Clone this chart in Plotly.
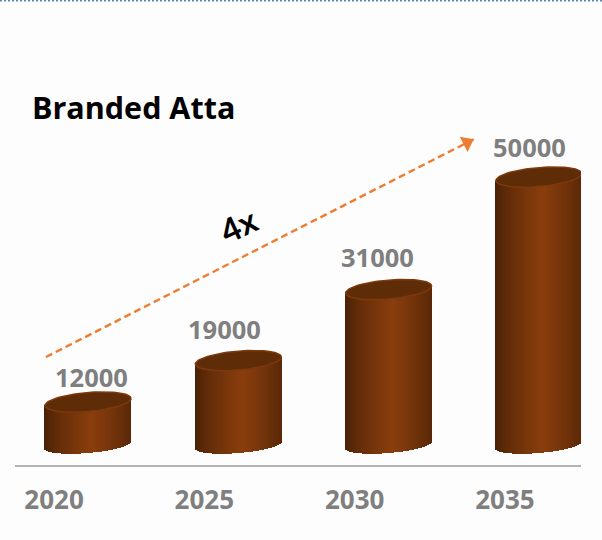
import numpy as np
import plotly.graph_objects as go

YEARS = [2020, 2025, 2030, 2035]
VALUES = [12000, 19000, 31000, 50000]
BASE_VALUE = 4737
LABEL_SHIFT_X = [3, -14, -11, -9]
LABEL_SHIFT_Y = [25, 32, 33, 30]
ARROW_X = [2018.6, 2032.84]
ARROW_Y = [19600, 56400]

W, H = 602, 540
ML, MR, MT, MB = 15, 21, 40, 75
XR = [2017.57, 2036.4]
YR = [1360, 73150]
px_x = (XR[1] - XR[0]) / (W - ML - MR)
px_y = (YR[1] - YR[0]) / (H - MT - MB)

HALF_W = 43
SEMI_B = 9.5
SEMI_LOW = 8
TILT = 3.5
EDGE = np.array([70, 32, 6])
MID = np.array([138, 62, 13])
N = 86


def strip_color(t):
    k = 1 - abs(t - 0.1) / 1.1
    k = k ** 0.7
    c = EDGE + (MID - EDGE) * k
    return f"rgb({int(c[0])},{int(c[1])},{int(c[2])})"


fig = go.Figure()
for yr, val in zip(YEARS, VALUES):
    off = (np.arange(N) + 0.5) / N * 2 - 1
    xs = yr + off * HALF_W * px_x
    low = BASE_VALUE + (-np.sqrt(1 - off ** 2) * SEMI_LOW + off * TILT) * px_y
    top = val + (off * TILT) * px_y
    fig.add_trace(go.Bar(
        x=xs, y=top - low, base=low, width=2 * HALF_W * px_x / N * 1.6,
        marker=dict(color=[strip_color(t) for t in off], line=dict(width=0)),
        hoverinfo="skip", showlegend=False))
    th = np.linspace(0, 2 * np.pi, 80)
    ex = np.cos(th)
    ey = np.sin(th)
    fig.add_trace(go.Scatter(
        x=yr + ex * HALF_W * px_x,
        y=val + (ey * SEMI_B + ex * TILT) * px_y,
        mode="lines", fill="toself", fillcolor="#5f2c08",
        line=dict(color="#7c390c", width=1.5),
        hoverinfo="skip", showlegend=False))

fig.add_trace(go.Scatter(
    x=ARROW_X, y=ARROW_Y, mode="lines",
    line=dict(color="#ed7d31", width=2.4, dash="7px,4px"),
    hoverinfo="skip", showlegend=False))
fig.add_trace(go.Scatter(
    x=[ARROW_X[1] - 7 * px_x], y=[ARROW_Y[1] - 3.5 * px_y], mode="markers",
    marker=dict(symbol="triangle-up", size=15, color="#ed7d31", angle=63),
    hoverinfo="skip", showlegend=False))

annotations = []
for yr, val, sx, sy in zip(YEARS, VALUES, LABEL_SHIFT_X, LABEL_SHIFT_Y):
    annotations.append(dict(
        x=yr, y=val, text=f"<b>{val}</b>", showarrow=False, xshift=sx, yshift=sy,
        font=dict(family="Open Sans", size=25.5, color="#7f7f7f")))
annotations.append(dict(
    xref="paper", yref="paper", x=15 / (W - ML - MR), y=(465 - 107) / (H - MT - MB),
    xanchor="left", yanchor="middle", text="<b>Branded Atta</b>", showarrow=False,
    font=dict(family="Open Sans", size=30.5, color="#000000")))
annotations.append(dict(
    xref="paper", yref="paper", x=(238 - ML) / (W - ML - MR), y=(465 - 225) / (H - MT - MB),
    yanchor="middle", text="<b>4x</b>", showarrow=False, textangle=-25,
    font=dict(family="Lato", size=33, color="#000000")))

fig.update_layout(
    width=W, height=H, margin=dict(l=ML, r=MR, t=MT, b=MB),
    paper_bgcolor="#fdfdfd", plot_bgcolor="#fdfdfd",
    barmode="overlay", bargap=0, showlegend=False,
    annotations=annotations,
    xaxis=dict(range=XR, tickvals=YEARS, ticktext=[str(y) for y in YEARS],
               ticklabelshift=-34, ticklabelstandoff=11, ticks="",
               showgrid=False, zeroline=False, showline=True,
               linecolor="#b3b3b3", linewidth=2,
               tickfont=dict(family="Open Sans", size=26, color="#7f7f7f", weight="bold")),
    yaxis=dict(range=YR, visible=False, showgrid=False, zeroline=False),
    shapes=[dict(type="line", xref="paper", yref="paper",
                 x0=-ML / (W - ML - MR), x1=1 + MR / (W - ML - MR),
                 y0=1 + MT / (H - MT - MB), y1=1 + MT / (H - MT - MB),
                 line=dict(color="#5b84b8", width=3, dash="2px,2px"))],
)
fig.write_html("out.html", config=dict(displayModeBar=False),
               post_script="document.body.style.margin='0';document.documentElement.style.overflow='hidden';")
